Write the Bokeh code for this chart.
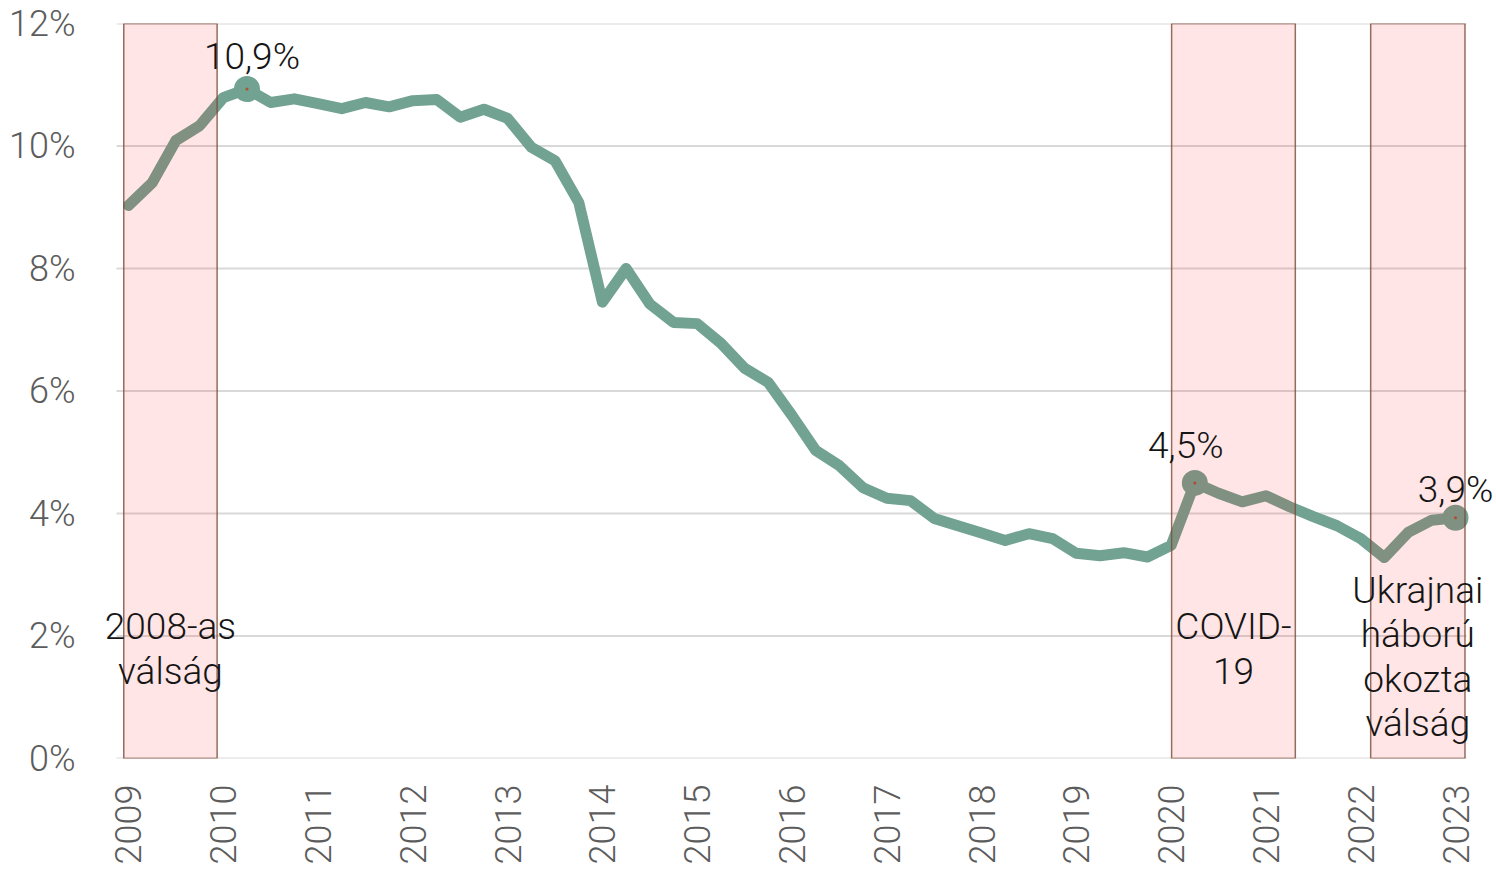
import numpy as np
from bokeh.plotting import figure
from bokeh.models import Range1d, FixedTicker, PrintfTickFormatter, Label, ColumnDataSource
from bokeh.embed import file_html
from bokeh.resources import INLINE

# ---------------- data ----------------
quarters = [f"{y}Q{q}" for y in range(2009, 2023) for q in range(1, 5)] + ["2023Q1"]
rates = [9.03, 9.40, 10.09, 10.33, 10.79, 10.93, 10.71, 10.77,
         10.69, 10.61, 10.71, 10.64, 10.74, 10.76, 10.47, 10.60,
         10.45, 9.98, 9.76, 9.08, 7.45, 8.00, 7.42, 7.12,
         7.10, 6.78, 6.37, 6.14, 5.60, 5.03, 4.78, 4.42,
         4.25, 4.21, 3.92, 3.80, 3.68, 3.56, 3.67, 3.59,
         3.35, 3.31, 3.36, 3.29, 3.48, 4.50, 4.33, 4.19,
         4.29, 4.11, 3.95, 3.80, 3.59, 3.28, 3.69, 3.89, 3.93]

highlight_quarters = ["2010Q2", "2020Q2", "2023Q1"]
highlight_labels = ["10,9%", "4,5%", "3,9%"]

crisis_names = [["2008-as", "válság"], ["COVID-", "19"], ["Ukrajnai", "háború", "okozta", "válság"]]
crisis_start = [2008.95, 2020.005, 2022.105]
crisis_end = [2009.935, 2021.31, 2023.10]

year_ticks = list(range(2009, 2024))
y_ticks = [0, 2, 4, 6, 8, 10, 12]

# ---------------- helpers ----------------
def q2x(q):
    return int(q[:4]) + (int(q[5]) - 1) / 4.0

xs = [q2x(q) for q in quarters]

FONT = "Roboto Light"
LINE_COLOR = "#72a291"
GRID_X0, GRID_X1 = 2008.8734, 2023.1166   # extent of the horizontal gridlines

p = figure(frame_width=1396, frame_height=735,
           x_range=Range1d(2008.7046, 2023.4325), y_range=Range1d(0, 12),
           output_backend="svg", toolbar_location=None,
           min_border_left=100, min_border_top=23, min_border_right=0, min_border_bottom=108)
p.outline_line_color = None
p.background_fill_color = "white"
p.border_fill_color = "white"

p.xgrid.visible = False
p.ygrid.visible = False

for ax in (p.xaxis[0], p.yaxis[0]):
    ax.axis_line_color = None
    ax.major_tick_line_color = None
    ax.minor_tick_line_color = None
    ax.major_label_text_font = FONT
    ax.major_label_text_font_size = "36px"
    ax.major_label_text_color = "#5c5c5c"

p.yaxis[0].ticker = FixedTicker(ticks=y_ticks)
p.yaxis[0].formatter = PrintfTickFormatter(format="%d%%")
p.yaxis[0].major_label_standoff = 19

p.xaxis[0].ticker = FixedTicker(ticks=year_ticks)
p.xaxis[0].major_label_orientation = np.pi / 2
p.xaxis[0].major_label_standoff = 20

# horizontal gridlines (limited extent)
gsrc = ColumnDataSource(dict(x0=[GRID_X0] * len(y_ticks), x1=[GRID_X1] * len(y_ticks), y=y_ticks))
p.segment(x0="x0", y0="y", x1="x1", y1="y", source=gsrc, line_color="#d9d9d9", line_width=2)

# line
src = ColumnDataSource(dict(x=xs, y=rates))
p.line("x", "y", source=src, line_color=LINE_COLOR, line_width=11, line_join="round", line_cap="round")

# highlighted points
hx = [q2x(q) for q in highlight_quarters]
hy = [rates[quarters.index(q)] for q in highlight_quarters]
hsrc = ColumnDataSource(dict(x=hx, y=hy))
p.scatter("x", "y", source=hsrc, size=26, fill_color=LINE_COLOR, line_color=None)
p.scatter("x", "y", source=hsrc, size=3, fill_color="#b0512f", line_color=None)

# crisis rectangles (on top, translucent)
csrc = ColumnDataSource(dict(left=crisis_start, right=crisis_end,
                             bottom=[0] * len(crisis_start), top=[12] * len(crisis_start)))
p.quad(left="left", right="right", bottom="bottom", top="top", source=csrc,
       fill_color="#ff0000", fill_alpha=0.10, line_color="#7a4a38", line_alpha=0.8, line_width=1.5)

# point labels
label_offsets = [(5, 33), (-9, 37), (0, 28)]
for x, y, t, (dx, dy) in zip(hx, hy, highlight_labels, label_offsets):
    p.add_layout(Label(x=x, y=y, x_offset=dx, y_offset=dy, text=t, text_font=FONT,
                       text_font_size="37px", text_color="#151515",
                       text_align="center", text_baseline="middle"))

# crisis labels
first_line_y = [2.155, 2.155, 2.743]
for s, e, lines, y0 in zip(crisis_start, crisis_end, crisis_names, first_line_y):
    cx = (s + e) / 2
    for i, t in enumerate(lines):
        p.add_layout(Label(x=cx, y=y0, y_offset=-44.5 * i, text=t, text_font=FONT,
                           text_font_size="37px", text_color="#151515",
                           text_align="center", text_baseline="middle"))

open("out.html", "w").write(file_html(p, INLINE))
